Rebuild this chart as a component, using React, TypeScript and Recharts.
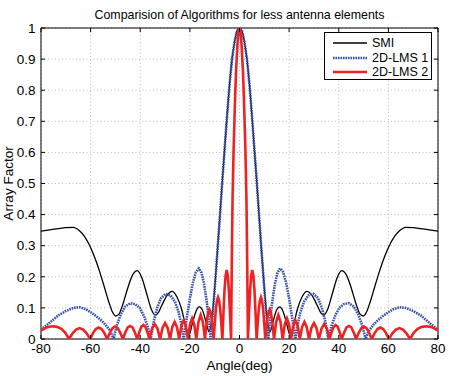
import React from 'react';
import { LineChart, Line, XAxis, YAxis, CartesianGrid, ReferenceLine, ReferenceArea, Legend } from 'recharts';

// Angle (deg) / array factor pairs
const smiPoints: [number, number][] = [
  [-80, 0.347], [-76.5, 0.351], [-73, 0.355], [-70, 0.358], [-67, 0.359], [-64.5, 0.348], [-62.5, 0.33], [-60.5, 0.302],
  [-58.5, 0.265], [-56.5, 0.22], [-54.5, 0.168], [-52.7, 0.12], [-51.2, 0.087], [-49.9, 0.074], [-48.6, 0.08], [-47, 0.112],
  [-45, 0.165], [-43, 0.207], [-41.2, 0.22], [-39.4, 0.198], [-37.5, 0.148], [-35.5, 0.095], [-34, 0.077], [-32.7, 0.085],
  [-31.2, 0.11], [-29.2, 0.14], [-27.2, 0.153], [-25.2, 0.135], [-23.3, 0.095], [-21.8, 0.045], [-20.4, 0.012], [-19, 0.05],
  [-17.6, 0.088], [-16.2, 0.103], [-14.8, 0.09], [-13.5, 0.055], [-12.3, 0.024], [-11, 0.075], [-10, 0.165], [-9, 0.27],
  [-8, 0.385], [-7, 0.5], [-6, 0.61], [-5, 0.72], [-4, 0.82], [-3, 0.9], [-2, 0.955], [-1, 0.99], [0, 1],
  [1, 0.99], [2, 0.955], [3, 0.9], [4, 0.82], [5, 0.72], [6, 0.61], [7, 0.5], [8, 0.385], [9, 0.27], [10, 0.165],
  [11, 0.075], [12.3, 0.024], [13.5, 0.055], [14.8, 0.09], [16.2, 0.103], [17.6, 0.088], [19, 0.05], [20.4, 0.012],
  [21.8, 0.045], [23.3, 0.095], [25.2, 0.135], [27.2, 0.153], [29.2, 0.14], [31.2, 0.11], [32.7, 0.085], [34, 0.077],
  [35.5, 0.095], [37.5, 0.148], [39.4, 0.198], [41.2, 0.22], [43, 0.207], [45, 0.165], [47, 0.112], [48.6, 0.08],
  [49.9, 0.074], [51.2, 0.087], [52.7, 0.12], [54.5, 0.168], [56.5, 0.22], [58.5, 0.265], [60.5, 0.302], [62.5, 0.33],
  [64.5, 0.348], [67, 0.359], [70, 0.358], [73, 0.355], [76.5, 0.351], [80, 0.347],
];

const lms1Points: [number, number][] = [
  [-80, 0.03], [-76.8, 0.05], [-73, 0.076], [-70, 0.09], [-67, 0.1], [-64.5, 0.102], [-62, 0.096], [-60, 0.086],
  [-58, 0.075], [-56, 0.062], [-54, 0.046], [-52, 0.025], [-50.8, 0], [-49.4, 0.045], [-47.8, 0.08], [-46, 0.105],
  [-44, 0.115], [-42, 0.112], [-40.2, 0.1], [-38.5, 0.074], [-37, 0.04], [-35.8, 0], [-34.6, 0.055], [-33.2, 0.1],
  [-31.6, 0.132], [-29.8, 0.145], [-27.8, 0.14], [-26, 0.12], [-24.5, 0.085], [-23.4, 0.045], [-22.5, 0], [-21.2, 0.07],
  [-20, 0.13], [-18.8, 0.18], [-17.6, 0.215], [-16.4, 0.227], [-15.3, 0.213], [-14.3, 0.178], [-13.2, 0.12], [-12.3, 0.06],
  [-11.6, 0], [-11, 0.06], [-10, 0.16], [-9, 0.27], [-8, 0.385], [-7, 0.5], [-6, 0.61], [-5, 0.72], [-4, 0.82],
  [-3, 0.9], [-2, 0.955], [-1, 0.99], [0, 1],
  [1, 0.99], [2, 0.955], [3, 0.9], [4, 0.82], [5, 0.72], [6, 0.61], [7, 0.5], [8, 0.385], [9, 0.27], [10, 0.16],
  [11, 0.06], [11.6, 0], [12.3, 0.06], [13.2, 0.12], [14.3, 0.178], [15.3, 0.213], [16.4, 0.227], [17.6, 0.215],
  [18.8, 0.18], [20, 0.13], [21.2, 0.07], [22.5, 0], [23.4, 0.045], [24.5, 0.085], [26, 0.12], [27.8, 0.14],
  [29.8, 0.145], [31.6, 0.132], [33.2, 0.1], [34.6, 0.055], [35.8, 0], [37, 0.04], [38.5, 0.074], [40.2, 0.1],
  [42, 0.112], [44, 0.115], [46, 0.105], [47.8, 0.08], [49.4, 0.045], [50.8, 0], [52, 0.025], [54, 0.046],
  [56, 0.062], [58, 0.075], [60, 0.086], [62, 0.096], [64.5, 0.102], [67, 0.1], [70, 0.09], [73, 0.076],
  [76.8, 0.05], [80, 0.03],
];

const lms2Points: [number, number][] = [
  [-80, 0.027], [-79, 0.032], [-77.5, 0.038], [-75.5, 0.041], [-73.5, 0.039], [-71.8, 0.033], [-70.2, 0.02], [-68.7, 0],
  [-67.28, 0.018], [-65.87, 0.03], [-64.45, 0.035], [-63.03, 0.03], [-61.62, 0.018], [-60.2, 0],
  [-59.05, 0.019], [-57.9, 0.032], [-56.75, 0.037], [-55.6, 0.032], [-54.45, 0.019], [-53.3, 0],
  [-52.25, 0.02], [-51.2, 0.035], [-50.15, 0.04], [-49.1, 0.035], [-48.05, 0.02], [-47, 0],
  [-46.03, 0.021], [-45.07, 0.037], [-44.1, 0.042], [-43.13, 0.037], [-42.17, 0.021], [-41.2, 0],
  [-40.38, 0.022], [-39.57, 0.039], [-38.75, 0.045], [-37.93, 0.039], [-37.12, 0.022], [-36.3, 0],
  [-35.23, 0.034], [-34.15, 0.048], [-33.08, 0.034], [-32, 0],
  [-31, 0.036], [-30, 0.051], [-29, 0.036], [-28, 0],
  [-27.08, 0.039], [-26.15, 0.055], [-25.23, 0.039], [-24.3, 0],
  [-23.43, 0.043], [-22.55, 0.06], [-21.68, 0.043], [-20.8, 0],
  [-19.95, 0.047], [-19.1, 0.066], [-18.25, 0.047], [-17.4, 0],
  [-16.53, 0.055], [-15.65, 0.077], [-14.78, 0.055], [-13.9, 0],
  [-13.46, 0.036], [-13.03, 0.067], [-12.59, 0.087], [-12.15, 0.095], [-11.71, 0.087], [-11.28, 0.067], [-10.84, 0.036], [-10.4, 0],
  [-9.96, 0.051], [-9.53, 0.095], [-9.09, 0.123], [-8.65, 0.134], [-8.21, 0.123], [-7.78, 0.095], [-7.34, 0.051], [-6.9, 0],
  [-6.46, 0.085], [-6.03, 0.158], [-5.59, 0.204], [-5.15, 0.222], [-4.71, 0.204], [-4.28, 0.158], [-3.84, 0.085], [-3.4, 0],
  [-3.1, 0.25], [-2.8, 0.45], [-2.4, 0.6], [-1.8, 0.77], [-1.4, 0.86], [-0.8, 0.95], [-0.4, 0.99], [0, 1],
  [0.4, 0.99], [0.8, 0.95], [1.4, 0.86], [1.8, 0.77], [2.4, 0.6], [2.8, 0.45], [3.1, 0.25], [3.4, 0],
  [3.84, 0.085], [4.28, 0.158], [4.71, 0.204], [5.15, 0.222], [5.59, 0.204], [6.03, 0.158], [6.46, 0.085], [6.9, 0],
  [7.34, 0.051], [7.78, 0.095], [8.21, 0.123], [8.65, 0.134], [9.09, 0.123], [9.53, 0.095], [9.96, 0.051], [10.4, 0],
  [10.84, 0.036], [11.28, 0.067], [11.71, 0.087], [12.15, 0.095], [12.59, 0.087], [13.03, 0.067], [13.46, 0.036], [13.9, 0],
  [14.78, 0.055], [15.65, 0.077], [16.53, 0.055], [17.4, 0],
  [18.25, 0.047], [19.1, 0.066], [19.95, 0.047], [20.8, 0],
  [21.68, 0.043], [22.55, 0.06], [23.43, 0.043], [24.3, 0],
  [25.23, 0.039], [26.15, 0.055], [27.08, 0.039], [28, 0],
  [29, 0.036], [30, 0.051], [31, 0.036], [32, 0],
  [33.08, 0.034], [34.15, 0.048], [35.23, 0.034], [36.3, 0],
  [37.12, 0.022], [37.93, 0.039], [38.75, 0.045], [39.57, 0.039], [40.38, 0.022], [41.2, 0],
  [42.17, 0.021], [43.13, 0.037], [44.1, 0.042], [45.07, 0.037], [46.03, 0.021], [47, 0],
  [48.05, 0.02], [49.1, 0.035], [50.15, 0.04], [51.2, 0.035], [52.25, 0.02], [53.3, 0],
  [54.45, 0.019], [55.6, 0.032], [56.75, 0.037], [57.9, 0.032], [59.05, 0.019], [60.2, 0],
  [61.62, 0.018], [63.03, 0.03], [64.45, 0.035], [65.87, 0.03], [67.28, 0.018], [68.7, 0],
  [70.2, 0.02], [71.8, 0.033], [73.5, 0.039], [75.5, 0.041], [77.5, 0.038], [79, 0.032], [80, 0.027],
];

const xTicks = [-80, -60, -40, -20, 0, 20, 40, 60, 80];
const yTicks = [0, 0.1, 0.2, 0.3, 0.4, 0.5, 0.6, 0.7, 0.8, 0.9, 1];

const FONT = '"Liberation Sans", Arial, sans-serif';

const series = [
  { name: 'SMI', points: smiPoints, color: '#000000', width: 1.3, dash: undefined as string | undefined, curve: 'monotone' as const },
  { name: '2D-LMS 1', points: lms1Points, color: '#3551aa', width: 2.6, dash: '1.6 0.9', curve: 'linear' as const },
  { name: '2D-LMS 2', points: lms2Points, color: '#ee2222', width: 2.6, dash: undefined, curve: 'linear' as const },
];

const toRows = (pts: [number, number][]) => pts.map(([x, y]) => ({ x, y }));

const LegendBox = () => (
  <div style={{ width: 108, height: 48, boxSizing: 'border-box', border: '1px solid #000', background: '#fff', paddingTop: 3, fontFamily: FONT, fontSize: 12.5 }}>
    {series.map(s => (
      <div key={s.name} style={{ height: 14.5, display: 'flex', alignItems: 'center' }}>
        <svg width={47} height={14} style={{ display: 'block' }}>
          <line x1={8} x2={42} y1={7} y2={7} stroke={s.color} strokeWidth={s.width} strokeDasharray={s.dash} />
        </svg>
        <span style={{ color: '#000', lineHeight: '14px', whiteSpace: 'nowrap' }}>{s.name}</span>
      </div>
    ))}
  </div>
);

const App: React.FC = () => {
  return <div style={{ position: 'absolute', left: 0, top: 0, background: '#fff' }}>
      <LineChart width={455} height={376} margin={{ top: 28, right: 17, bottom: 0, left: 0 }} style={{ fontFamily: FONT }}>
        <CartesianGrid stroke="#bdbdbd" strokeDasharray="1 2.5" />
        <XAxis type="number" dataKey="x" domain={[-80, 80]} ticks={xTicks} height={37} axisLine={false} tickLine={false} tickSize={0} tickMargin={4.5} tick={{ fill: '#000', fontSize: 13.5 }} allowDataOverflow />
        <YAxis type="number" dataKey="y" domain={[0, 1]} ticks={yTicks} width={41} axisLine={false} tickLine={false} tickSize={0} tickMargin={5.5} tick={{ fill: '#000', fontSize: 13.5 }} allowDataOverflow />
        {series.map(s => <Line key={s.name} data={toRows(s.points)} dataKey="y" name={s.name} type={s.curve} stroke={s.color} strokeWidth={s.width} strokeDasharray={s.dash} dot={false} activeDot={false} isAnimationActive={false} />)}
        {xTicks.map(t => <ReferenceLine key={`tb${t}`} segment={[{ x: t, y: 0 }, { x: t, y: 0.013 }]} stroke="#000" />)}
        {xTicks.map(t => <ReferenceLine key={`tt${t}`} segment={[{ x: t, y: 1 }, { x: t, y: 0.987 }]} stroke="#000" />)}
        {yTicks.map(t => <ReferenceLine key={`tl${t}`} segment={[{ x: -80, y: t }, { x: -78.4, y: t }]} stroke="#000" />)}
        {yTicks.map(t => <ReferenceLine key={`tr${t}`} segment={[{ x: 80, y: t }, { x: 78.4, y: t }]} stroke="#000" />)}
        <ReferenceArea x1={-80} x2={80} y1={0} y2={1} fill="none" fillOpacity={0} stroke="#000" strokeWidth={1} />
        <Legend layout="vertical" align="center" verticalAlign="middle" content={() => <LegendBox />} wrapperStyle={{ left: 324, top: 32, right: 'auto', bottom: 'auto', width: 108 }} />
        <text x={239.5} y={18.5} textAnchor="middle" fontSize={12.4} fill="#000" fontFamily={FONT}>Comparision of Algorithms for less antenna elements</text>
        <text x={239.5} y={370} textAnchor="middle" fontSize={13.5} fill="#000" fontFamily={FONT}>Angle(deg)</text>
        <text transform="translate(13,183.5) rotate(-90)" textAnchor="middle" fontSize={13.5} fill="#000" fontFamily={FONT}>Array Factor</text>
      </LineChart>
    </div>;
};

export default App;
